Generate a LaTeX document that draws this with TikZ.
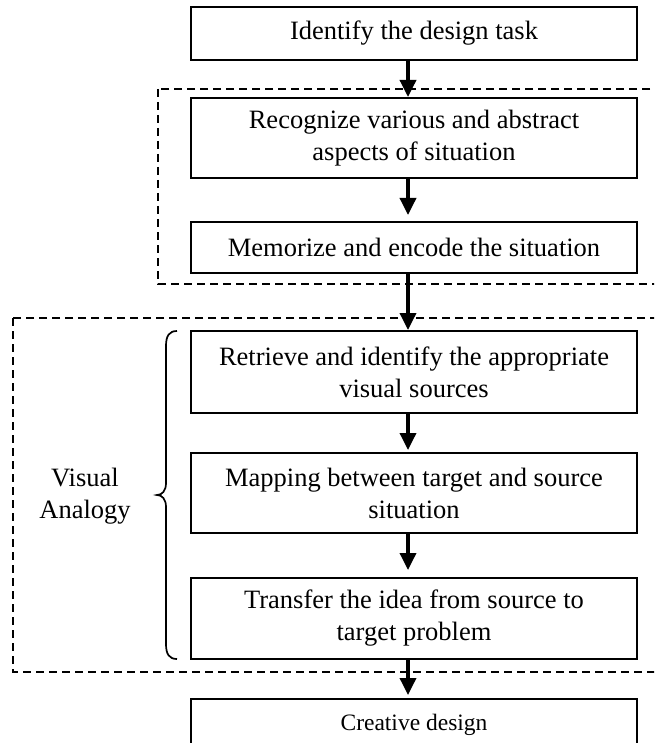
\documentclass[tikz,border=0pt]{standalone}
\usepackage{fontspec}
\setmainfont{Liberation Serif}
\usetikzlibrary{arrows.meta}

\tikzset{
  stepbox/.style={draw, line width=2pt, fill=white, minimum width=446pt,
    inner sep=0pt, align=center, font=\fontsize{26.5}{32}\selectfont},
  groupline/.style={draw, line width=2pt, dash pattern=on 8pt off 5pt},
  flow/.style={line width=3.5pt, -{Triangle[length=17pt,width=16pt]}},
  bracket/.style={line width=1.7pt},
  sidelabel/.style={align=center, font=\fontsize{26.5}{32}\selectfont},
}

\begin{document}
\begin{tikzpicture}[x=1pt,y=-1pt]
\useasboundingbox (0,0) rectangle (654,743);
\clip (0,0) rectangle (654,743);

% dashed groupings (right sides run past the page edge)
\draw[groupline] (158,89) rectangle (690,284);
\draw[groupline] (13,318) rectangle (690,672);

% process steps
\node[stepbox, minimum height=53pt] (b1) at (414,33.5) {Identify the design task};
\node[stepbox, minimum height=80pt] (b2) at (414,138) {Recognize various and abstract\\aspects of situation};
\node[stepbox, minimum height=51pt] (b3) at (414,247.5) {Memorize and encode the situation};
\node[stepbox, minimum height=82pt] (b4) at (414,372) {Retrieve and identify the appropriate\\visual sources};
\node[stepbox, minimum height=80pt] (b5) at (414,493) {Mapping between target and source\\situation};
\node[stepbox, minimum height=81pt] (b6) at (414,618.5) {Transfer the idea from source to\\target problem};
\node[stepbox, minimum height=52pt, font=\fontsize{23.5}{28}\selectfont] (b7) at (414,725) {Creative design};

% arrow column
\coordinate (ax) at (408,0);
\draw[flow] (b1.south -| ax) -- (b2.north -| ax);
\draw[flow, shorten >=6pt] (b2.south -| ax) -- (b3.north -| ax);
\draw[flow] (b3.south -| ax) -- (b4.north -| ax);
\draw[flow, shorten >=2pt] (b4.south -| ax) -- (b5.north -| ax);
\draw[flow, shorten >=7pt] (b5.south -| ax) -- (b6.north -| ax);
\draw[flow, shorten >=3pt] (b6.south -| ax) -- (b7.north -| ax);

% brace and its label
\node[sidelabel] (va) at (85,496) {Visual\\Analogy};
\coordinate (bt) at (177,331);
\coordinate (bb) at (177,659);
\coordinate (bm) at (157,495);
\draw[bracket] (bt) .. controls (169,331) and (166,336) .. (166,346)
  -- (166,483) .. controls (166,491) and (162,495) .. (bm)
  .. controls (162,495) and (166,499) .. (166,507)
  -- (166,644) .. controls (166,654) and (169,659) .. (bb);
\end{tikzpicture}
\end{document}
